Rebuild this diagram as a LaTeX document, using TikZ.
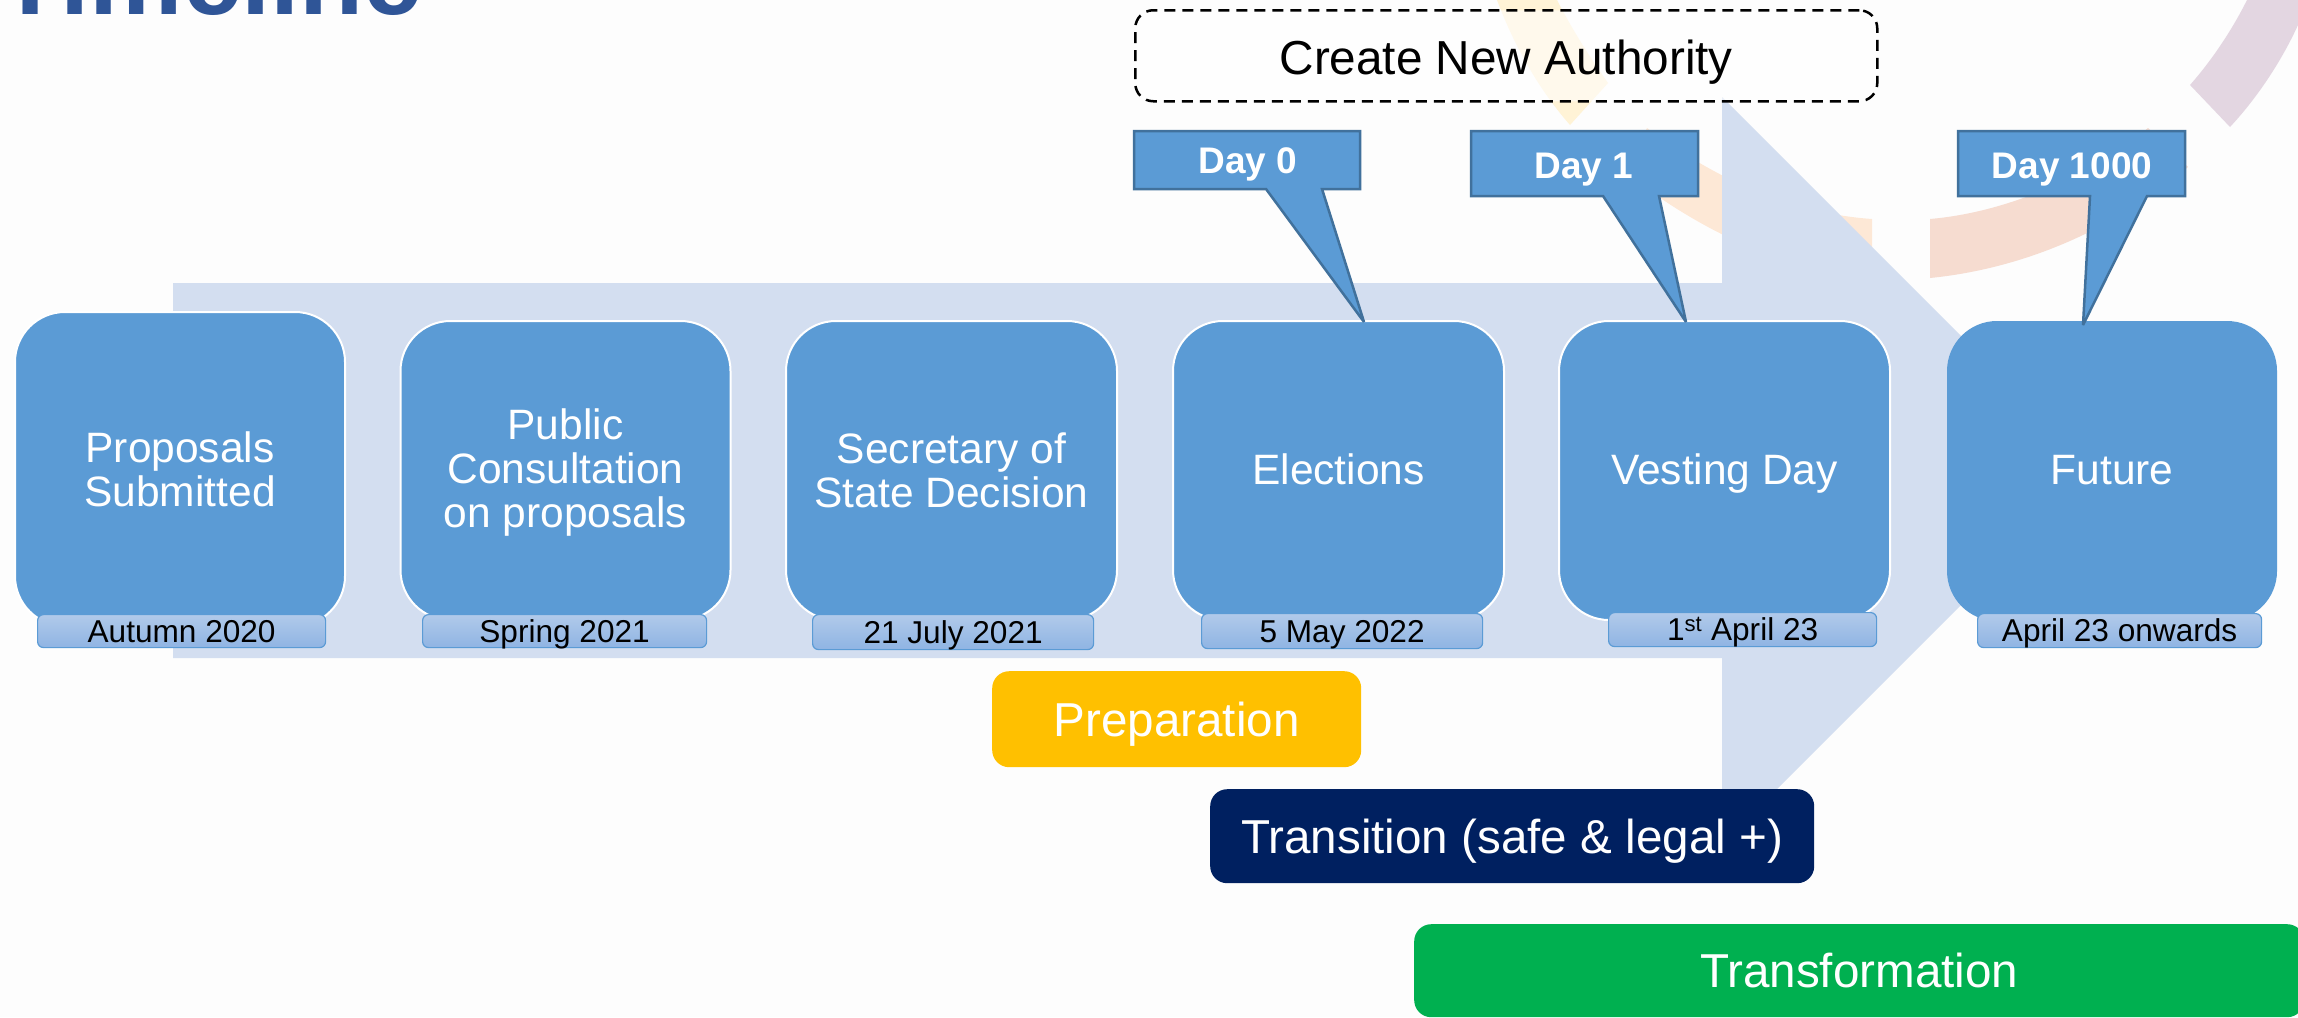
\documentclass[tikz,border=0pt]{standalone}
\usepackage{fontspec}
\setmainfont{Liberation Sans}
\definecolor{pagebg}{HTML}{FDFDFD}
\definecolor{arrowfill}{HTML}{D3DEF0}
\definecolor{stepblue}{HTML}{5B9BD5}
\definecolor{calloutedge}{HTML}{41719C}
\definecolor{datetop}{HTML}{B1CAEA}
\definecolor{datebot}{HTML}{8FB4E3}
\definecolor{titleblue}{HTML}{2F5597}
\definecolor{wmyellow}{HTML}{FFF3D6}
\definecolor{wmorange}{HTML}{FDE8D6}
\definecolor{wmpeach}{HTML}{F6DCD0}
\definecolor{wmmauve}{HTML}{E3D6E1}
\tikzset{
  stepbox/.style={rectangle,rounded corners=50pt,fill=stepblue,draw=white,line width=2pt,
    text=white,align=center,anchor=north west,inner sep=0pt,
    font=\fontsize{42.5}{44}\selectfont},
  oneline/.style={text height=27pt,text depth=0pt},
  datebox/.style={rectangle,rounded corners=6pt,top color=datetop,bottom color=datebot,
    draw=stepblue,line width=1.2pt,text=black,anchor=north west,inner sep=0pt,
    text height=24pt,text depth=2pt,
    font=\fontsize{31.6}{34}\selectfont},
  bandbox/.style={rectangle,rounded corners=17pt,text=white,anchor=north west,inner sep=0pt,
    text height=34pt,text depth=0pt,
    font=\fontsize{47.6}{50}\selectfont},
  calloutbox/.style={fill=stepblue,draw=calloutedge,line width=2.5pt,line join=miter,miter limit=3},
  callouttext/.style={anchor=base,text=white,inner sep=0pt,font=\fontsize{37}{40}\selectfont\bfseries},
}
\begin{document}
\begin{tikzpicture}[x=1pt,y=-1pt]
\useasboundingbox (0,0) rectangle (2298,1017);
\fill[pagebg] (0,0) rectangle (2298,1017);
% watermark
\fill[wmyellow] (1497,0) -- (1557,0) .. controls (1575,35) and (1592,60) .. (1608,83) -- (1570,125) .. controls (1535,85) and (1512,40) .. (1497,0) -- cycle;
\fill[wmorange] (1647,128) .. controls (1690,160) and (1770,212) .. (1872,219) -- (1872,280) .. controls (1790,272) and (1700,232) .. (1625,172) -- cycle;
\fill[wmpeach] (1930,219) .. controls (2010,212) and (2090,175) .. (2148,128) -- (2188,167) .. controls (2120,225) and (2030,268) .. (1930,278) -- cycle;
\fill[wmmauve] (2247,0) .. controls (2232,30) and (2212,60) .. (2190,85) -- (2230,127) .. controls (2258,97) and (2282,60) .. (2298,25) -- (2298,0) -- cycle;
% title (cropped by the page)
\node[anchor=base west,inner sep=0pt,text=titleblue,font=\fontsize{105}{106}\selectfont\bfseries] (title) at (-2,14.5) {Timeline};
% big arrow
\fill[arrowfill] (173,283) -- (1722,283) -- (1722,97) -- (2095.5,470.5) -- (1722,844) -- (1722,658) -- (173,658) -- cycle;
% steps
\node[stepbox,minimum width=330pt,minimum height=314pt] (s1) at (14,311) {Proposals\\Submitted};
\node[stepbox,minimum width=330pt,minimum height=299pt] (s2) at (399.5,320) {\rule{0pt}{35pt}Public\\Consultation\\on proposals};
\node[stepbox,minimum width=331pt,minimum height=299pt] (s3) at (785,320) {Secretary of\\State Decision};
\node[stepbox,oneline,minimum width=331pt,minimum height=299pt] (s4) at (1172,320) {Elections};
\node[stepbox,oneline,minimum width=331pt,minimum height=299pt] (s5) at (1558,320) {Vesting Day};
\node[stepbox,oneline,draw=none,minimum width=330pt,minimum height=300pt] (s6) at (1946,320) {Future};
% dates
\node[datebox,minimum width=288pt,minimum height=33pt] (d1) at (37,614) {Autumn 2020};
\node[datebox,minimum width=284pt,minimum height=33pt] (d2) at (422,614) {Spring 2021};
\node[datebox,minimum width=281pt,minimum height=35pt] (d3) at (812,614) {21 July 2021};
\node[datebox,minimum width=281pt,minimum height=35pt] (d4) at (1201,613) {5 May 2022};
\node[datebox,minimum width=268pt,minimum height=34pt] (d5) at (1608,612) {1\textsuperscript{st} April 23};
\node[datebox,minimum width=284pt,minimum height=34pt] (d6) at (1977,613) {April 23 onwards};
% authority
\node[rectangle,rounded corners=18pt,draw=black,line width=2.5pt,dash pattern=on 11pt off 7pt,anchor=north west,inner sep=0pt,
  fill=white,fill opacity=0.55,text opacity=1,draw opacity=1,text height=37pt,text depth=0pt,
  minimum width=742pt,minimum height=91pt,font=\fontsize{47.7}{50}\selectfont] (auth) at (1134,9) {Create New Authority};
% callouts
\draw[calloutbox] (1134,131) -- (1360,131) -- (1360,189) -- (1322,189) -- (1364,322) -- (1266,189) -- (1134,189) -- cycle;
\node[callouttext] (c0) at (1248,173) {Day 0};
\draw[calloutbox] (1471,131) -- (1698,131) -- (1698,196) -- (1659,196) -- (1686,322) -- (1603,196) -- (1471,196) -- cycle;
\node[callouttext] (c1) at (1584,178) {Day 1};
\draw[calloutbox] (1958,131) -- (2185,131) -- (2185,196) -- (2147,196) -- (2083,325) -- (2090,196) -- (1958,196) -- cycle;
\node[callouttext] (c2) at (2072,178) {Day 1000};
% bands
\node[bandbox,fill={rgb,255:red,255;green,192;blue,0},minimum width=369pt,minimum height=96pt] (prep) at (992,671) {Preparation};
\node[bandbox,fill={rgb,255:red,0;green,32;blue,96},minimum width=604pt,minimum height=94pt] (trans) at (1210,789) {Transition (safe \& legal +)};
\node[bandbox,fill={rgb,255:red,0;green,176;blue,80},minimum width=890pt,minimum height=93pt] (tform) at (1414,924) {Transformation};
\end{tikzpicture}
\end{document}
